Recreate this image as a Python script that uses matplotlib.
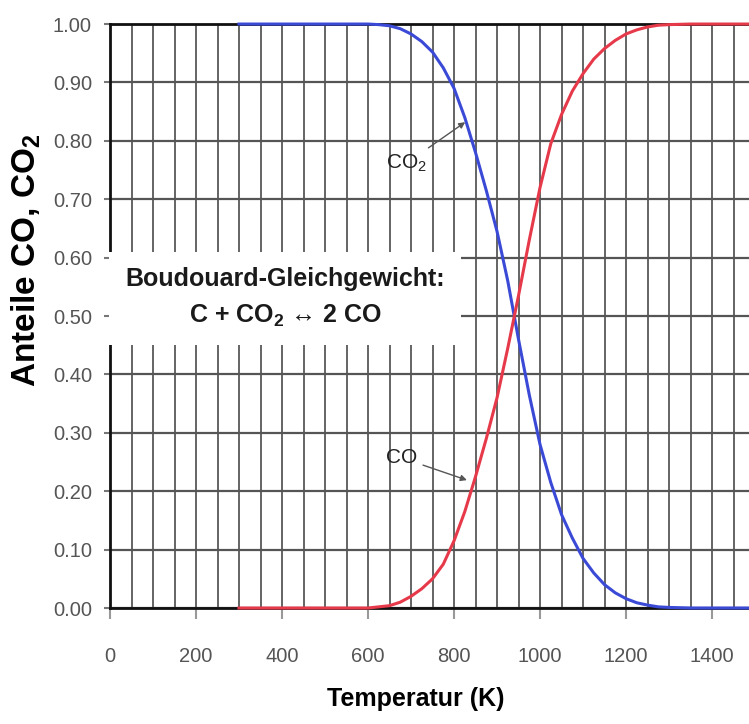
import matplotlib
matplotlib.use("Agg")
import matplotlib.pyplot as plt
from matplotlib.ticker import MultipleLocator, FormatStrFormatter

# Boudouard equilibrium, values
temperatur = [300, 400, 500, 600, 625, 650, 675, 700, 725, 750, 775, 800, 825, 850,
              875, 900, 925, 950, 975, 1000, 1025, 1050, 1075, 1100, 1125, 1150,
              1175, 1200, 1225, 1250, 1275, 1300, 1350, 1400, 1500]
anteil_co = [0.0, 0.0, 0.0, 0.0, 0.002, 0.004, 0.01, 0.02, 0.033, 0.05, 0.075, 0.115,
             0.165, 0.225, 0.29, 0.36, 0.445, 0.535, 0.63, 0.72, 0.795, 0.845, 0.885,
             0.915, 0.94, 0.958, 0.972, 0.983, 0.99, 0.995, 0.998, 0.999, 1.0, 1.0, 1.0]
anteil_co2 = [1.0, 1.0, 1.0, 1.0, 0.999, 0.997, 0.992, 0.983, 0.97, 0.952, 0.925, 0.89,
              0.84, 0.78, 0.715, 0.645, 0.56, 0.46, 0.365, 0.28, 0.215, 0.16, 0.12,
              0.085, 0.06, 0.04, 0.026, 0.016, 0.009, 0.005, 0.002, 0.001, 0.0, 0.0, 0.0]

plt.rcParams["font.family"] = ["Liberation Sans", "DejaVu Sans"]
plt.rcParams["mathtext.fontset"] = "custom"
plt.rcParams["mathtext.rm"] = "Liberation Sans"
plt.rcParams["mathtext.bf"] = "Liberation Sans:bold"

fig = plt.figure(figsize=(7.49, 7.24), dpi=100)
ax = fig.add_axes([0.1469, 0.1602, 0.8531, 0.8066])

ax.plot(temperatur, anteil_co2, color="#3b4ad6", lw=2.2, zorder=4, clip_on=False)
ax.plot(temperatur, anteil_co, color="#e6394a", lw=2.2, zorder=4, clip_on=False)

ax.set_xlim(0, 1486)
ax.set_ylim(0, 1.0)
ax.xaxis.set_major_locator(MultipleLocator(200))
ax.xaxis.set_minor_locator(MultipleLocator(50))
ax.yaxis.set_major_locator(MultipleLocator(0.1))
ax.yaxis.set_major_formatter(FormatStrFormatter("%.2f"))

ax.grid(True, which="both", axis="x", color="#3a3a3a", lw=1.1)
ax.grid(True, which="major", axis="y", color="#555555", lw=1.6)
ax.set_axisbelow(True)

ax.tick_params(axis="x", which="major", length=8, width=1.5, color="#999999",
               pad=20, labelsize=14.5, labelcolor="#555555")
ax.tick_params(axis="x", which="minor", length=0)
ax.tick_params(axis="y", length=4, width=1.5, color="#777777", pad=9,
               labelsize=14.5, labelcolor="#555555")

for side in ["left", "bottom", "top"]:
    ax.spines[side].set_linewidth(2)
    ax.spines[side].set_color("#111111")
ax.spines["right"].set_visible(False)

ax.set_xlabel("Temperatur (K)", fontsize=18, fontweight="bold")
ax.xaxis.set_label_coords(0.479, -0.135)
ax.set_ylabel("Anteile CO, CO$_\\mathbf{2}$", fontsize=24, fontweight="bold")
ax.yaxis.set_label_coords(-0.105, 0.595)

ax.text(407, 0.531, "Boudouard-Gleichgewicht:\nC + CO$_\\mathbf{2}$ \u2194 2 CO",
        ha="center", va="center", fontsize=18, fontweight="bold", color="#1a1a1a",
        linespacing=1.55, zorder=3,
        bbox=dict(boxstyle="square,pad=0.65", facecolor="white", edgecolor="none"))

arrow = dict(arrowstyle="-|>", color="#555555", lw=1.0, mutation_scale=9,
             shrinkA=2, shrinkB=0)
ax.annotate("CO$_2$", xy=(826, 0.832), xytext=(690, 0.762), ha="center",
            va="center", fontsize=15, color="#222222", arrowprops=arrow, zorder=5)
ax.annotate("CO", xy=(830, 0.219), xytext=(679, 0.257), ha="center",
            va="center", fontsize=15, color="#222222", arrowprops=arrow, zorder=5)

fig.savefig("out.png", dpi=100)
